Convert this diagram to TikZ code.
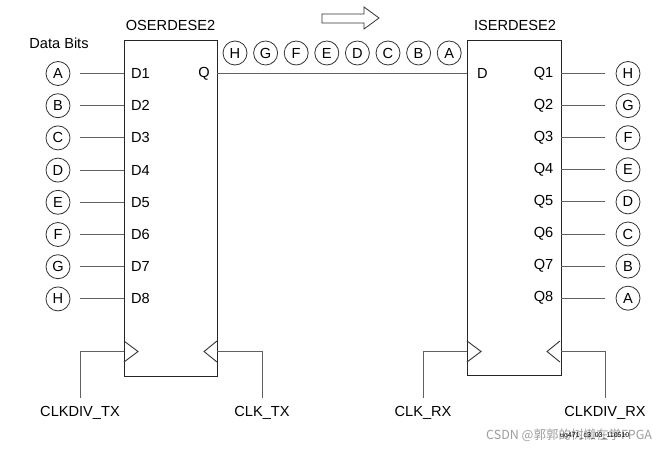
\documentclass[tikz,border=0pt]{standalone}
\usepackage{fontspec}
\setmainfont{Liberation Sans}
\newfontfamily\cjk{Noto Sans CJK SC}
\newcommand{\lblfont}{\fontsize{14.6}{16}\selectfont}
\begin{document}
\begin{tikzpicture}[x=1pt,y=-1pt,
  box/.style={draw=black!85, line width=1.3pt, fill=none, inner sep=0pt, anchor=north west},
  wire/.style={draw=black!62, line width=1pt},
  bit/.style={circle, draw=black!80, line width=0.8pt, minimum size=24pt, inner sep=0pt, font=\lblfont},
  pinl/.style={anchor=west, inner sep=0pt, font=\lblfont},
  pinr/.style={anchor=east, inner sep=0pt, font=\lblfont},
  title/.style={inner sep=0pt, font=\lblfont},
  clk/.style={draw=black!80, line width=0.9pt, line join=miter}
]
\useasboundingbox (0,0) rectangle (669,452);
\fill[white] (0,0) rectangle (669,452);

% boxes
\node[box, minimum width=93pt, minimum height=336pt] (ose) at (124,40) {};
\node[box, minimum width=94pt, minimum height=335pt] (ise) at (467,40) {};
\node[title] (oset) at (170.5,25) {OSERDESE2};
\node[title] (iset) at (515,25) {ISERDESE2};
\node[title] (db) at (59,43) {Data Bits};

% left data bits
\foreach \l [count=\i] in {A,B,C,D,E,F,G,H} {
  \pgfmathsetmacro{\yy}{73.5+(\i-1)*32.2}
  \node[bit] (ib\i) at (58,\yy) {\l};
  \coordinate (d\i) at (124,\yy);
  \node[pinl] (dl\i) at (131,\yy) {D\i};
  \draw[wire, shorten <=10pt] (ib\i.east) -- (d\i);
}
% right data bits
\foreach \l [count=\i] in {H,G,F,E,D,C,B,A} {
  \pgfmathsetmacro{\yy}{73.5+(\i-1)*32.1}
  \node[bit] (ob\i) at (628,\yy) {\l};
  \coordinate (q\i) at (561,\yy);
  \node[pinr] (ql\i) at (553.5,\yy) {Q\i};
  \draw[wire, shorten <=11pt] (ob\i.west) -- (q\i);
}

% serial link
\node[pinr] (qo) at (210,73.5) {Q};
\node[pinl] (di) at (477,73.5) {D};
\coordinate (qout) at (217,73.5);
\coordinate (din) at (467,73.5);
\draw[wire] (qout) -- (din);
\foreach \l [count=\i] in {H,G,F,E,D,C,B,A} {
  \node[bit] (sb\i) at ({235+(\i-1)*30.6},53) {\l};
}
% direction arrow
\draw[draw=black!80, line width=0.8pt, line join=miter]
  (322,14) -- (364,14) -- (364,7) -- (379,18) -- (364,29) -- (364,23) -- (322,23) -- cycle;

% clocks TX
\draw[clk] (124,341) -- (138,351.5) -- (124,362);
\draw[clk] (217,341) -- (204,351.5) -- (217,362);
\coordinate (ckdtx) at (124,351.5);
\coordinate (cktx) at (217,351.5);
\coordinate (ckdtxe) at (80,398);
\coordinate (cktxe) at (262,398);
\node[title] (lckdtx) at (80,413) {CLKDIV\_TX};
\node[title] (lcktx) at (262,413) {CLK\_TX};
\draw[wire] (ckdtx) -| (ckdtxe);
\draw[wire] (cktx) -| (cktxe);

% clocks RX
\draw[clk] (467,341) -- (481,351.5) -- (467,362);
\draw[clk] (560,341) -- (547,351.5) -- (560,362);
\coordinate (ckrx) at (467,351.5);
\coordinate (ckdrx) at (561,351.5);
\coordinate (ckrxe) at (423,398);
\coordinate (ckdrxe) at (605,398);
\node[title] (lckrx) at (423,413) {CLK\_RX};
\node[title] (lckdrx) at (605,413) {CLKDIV\_RX};
\draw[wire] (ckrx) -| (ckrxe);
\draw[wire] (ckdrx) -| (ckdrxe);

% watermark and figure id
\node[anchor=west, inner sep=0pt, text=black!38, font=\cjk\fontsize{12.5}{14}\selectfont] (wm) at (486,435) {CSDN @郭郭的树懒在学FPGA};
\node[anchor=west, inner sep=0pt, font=\fontsize{7}{8}\selectfont] (fid) at (560,436) {ug471\_c3\_03\_110510};
\end{tikzpicture}
\end{document}
